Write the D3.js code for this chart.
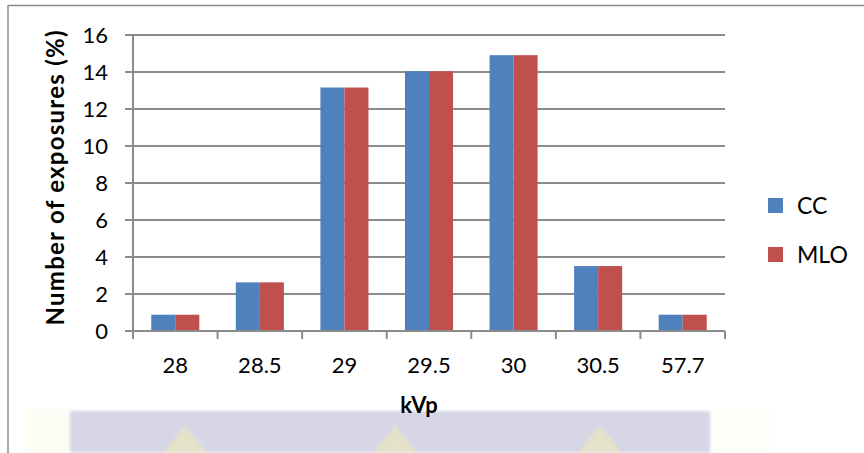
<!DOCTYPE html>
<html>
<head>
<meta charset="utf-8">
<script src="https://cdn.jsdelivr.net/npm/d3@7"></script>
<style>
  html, body { margin: 0; padding: 0; background: #fff; }
  svg { display: block; }
  text { font-family: Lato, "Open Sans", sans-serif; fill: #000; }
</style>
</head>
<body>
<svg id="chart" width="864" height="453"></svg>
<script>
// kVp settings and share of exposures (%) per projection
const categories = ["28", "28.5", "29", "29.5", "30", "30.5", "57.7"];
const ccValues  = [0.88, 2.63, 13.16, 14.04, 14.91, 3.51, 0.88];
const mloValues = [0.88, 2.63, 13.16, 14.04, 14.91, 3.51, 0.88];
const seriesNames = ["CC", "MLO"];
const yTicks = [0, 2, 4, 6, 8, 10, 12, 14, 16];

const colors = { CC: "#4f81bd", MLO: "#c0504d" };
const gridColor = "#8c8c8c";

const svg = d3.select("#chart");

// Page decorations: faint banner band along the bottom, frame lines
const deco = svg.append("g");
deco.append("rect").attr("x", 70).attr("y", 411).attr("width", 640).attr("height", 42)
  .attr("fill", "#d6d6e6");
deco.append("rect").attr("x", 25).attr("y", 408).attr("width", 45).attr("height", 45)
  .attr("fill", "#fdfdf6");
deco.append("rect").attr("x", 710).attr("y", 408).attr("width", 60).attr("height", 45)
  .attr("fill", "#fefef8");
[185, 395, 600].forEach(cx => {
  deco.append("path")
    .attr("d", `M${cx},425 L${cx - 22},453 L${cx + 22},453 Z`)
    .attr("fill", "#e6e3c6").attr("opacity", 0.9);
});
deco.style("filter", "blur(1.5px)");

svg.append("line").attr("x1", 8).attr("x2", 864).attr("y1", 5.5).attr("y2", 5.5)
  .attr("stroke", "#8c8c8c").attr("stroke-width", 1.5);
svg.append("line").attr("x1", 8).attr("x2", 8).attr("y1", 5).attr("y2", 453)
  .attr("stroke", "#8c8c8c").attr("stroke-width", 1.5);

// Plot area
const plot = { left: 133, right: 725, top: 35, bottom: 331 };

const x = d3.scaleBand().domain(categories).range([plot.left, plot.right]).paddingInner(0).paddingOuter(0);
const x1 = d3.scaleBand().domain(seriesNames).range([0, x.bandwidth()]).paddingInner(0).paddingOuter(0.76);
const y = d3.scaleLinear().domain([0, 16]).range([plot.bottom, plot.top]);

// Horizontal gridlines
svg.append("g").selectAll("line").data(yTicks).join("line")
  .attr("x1", plot.left - 8).attr("x2", plot.right)
  .attr("y1", d => y(d)).attr("y2", d => y(d))
  .attr("stroke", gridColor).attr("stroke-width", 2);

// Y axis
const yAxis = svg.append("g").attr("transform", `translate(${plot.left},0)`)
  .call(d3.axisLeft(y).tickValues(yTicks).tickSize(0).tickPadding(25));
yAxis.select(".domain").remove();
yAxis.selectAll("text").style("font-size", "22px").style("font-family", "Lato, sans-serif");
svg.append("line").attr("x1", plot.left).attr("x2", plot.left)
  .attr("y1", plot.top).attr("y2", plot.bottom + 8)
  .attr("stroke", gridColor).attr("stroke-width", 2);

// Bars
const data = categories.map((c, i) => ({ cat: c, CC: ccValues[i], MLO: mloValues[i] }));
const groups = svg.append("g").selectAll("g").data(data).join("g")
  .attr("transform", d => `translate(${x(d.cat)},0)`);
groups.selectAll("rect")
  .data(d => seriesNames.map(s => ({ s, v: d[s] })))
  .join("rect")
  .attr("x", d => x1(d.s))
  .attr("width", x1.bandwidth())
  .attr("y", d => y(d.v))
  .attr("height", d => y(0) - y(d.v))
  .attr("fill", d => colors[d.s]);

// X axis
const xAxis = svg.append("g").attr("transform", `translate(0,${plot.bottom})`)
  .call(d3.axisBottom(x).tickSize(0).tickPadding(26));
xAxis.select(".domain").remove();
xAxis.selectAll("text").style("font-size", "22px").style("font-family", "Lato, sans-serif");
svg.append("line").attr("x1", plot.left).attr("x2", plot.right)
  .attr("y1", plot.bottom).attr("y2", plot.bottom)
  .attr("stroke", gridColor).attr("stroke-width", 2);
svg.append("g").selectAll("line").data(d3.range(categories.length + 1)).join("line")
  .attr("x1", i => plot.left + i * x.bandwidth()).attr("x2", i => plot.left + i * x.bandwidth())
  .attr("y1", plot.bottom).attr("y2", plot.bottom + 8)
  .attr("stroke", gridColor).attr("stroke-width", 2);

// Axis titles
svg.append("text").attr("x", 419).attr("y", 413).attr("text-anchor", "middle")
  .style("font-size", "22px").style("font-weight", "bold").text("kVp");
svg.append("text").attr("transform", "translate(64,178) rotate(-90)").attr("text-anchor", "middle")
  .attr("textLength", 295).attr("lengthAdjust", "spacing")
  .style("font-size", "24px").style("font-weight", "bold").text("Number of exposures (%)");

// Legend
const legend = svg.append("g").selectAll("g").data(seriesNames).join("g")
  .attr("transform", (d, i) => `translate(768,${198 + i * 49})`);
legend.append("rect").attr("width", 15).attr("height", 15).attr("fill", d => colors[d]);
legend.append("text").attr("x", 29).attr("y", 8).attr("dy", "0.36em")
  .style("font-size", "23px").text(d => d);
</script>
</body>
</html>
